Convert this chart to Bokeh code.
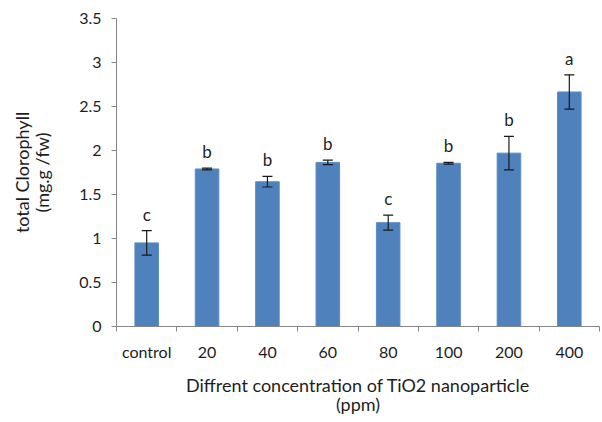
import numpy as np
from bokeh.plotting import figure
from bokeh.models import ColumnDataSource, Range1d, FixedTicker, Whisker
from bokeh.core.properties import value
from bokeh.embed import file_html
from bokeh.resources import INLINE

categories = ["control", "20", "40", "60", "80", "100", "200", "400"]
values = [0.95, 1.79, 1.645, 1.865, 1.18, 1.855, 1.97, 2.665]
errors = [0.14, 0.01, 0.06, 0.025, 0.085, 0.01, 0.19, 0.195]
letters = ["c", "b", "b", "b", "c", "b", "b", "a"]
y_ticks = [0, 0.5, 1, 1.5, 2, 2.5, 3, 3.5]
y_tick_labels = ["0", "0.5", "1", "1.5", "2", "2.5", "3", "3.5"]

FONT = "Lato"
AXIS_COL = "#868686"
TXT = "#1e1e1e"

xpos = [i + 0.5 for i in range(len(categories))]
vals = np.array(values)
errs = np.array(errors)
src = ColumnDataSource(dict(x=xpos, top=values, upper=list(vals + errs),
                            lower=list(vals - errs), letter=letters))

p = figure(width=600, height=420, x_range=Range1d(0, len(categories)),
           y_range=Range1d(0, 3.5), output_backend="svg", toolbar_location=None,
           min_border_left=116, min_border_right=1, min_border_top=18,
           min_border_bottom=94)
p.outline_line_color = None
p.xgrid.visible = False
p.ygrid.visible = False

p.vbar(x="x", top="top", width=0.39, source=src, fill_color="#4F81BD",
       line_color="#5a8bc6", line_width=1)

w = Whisker(base="x", upper="upper", lower="lower", source=src,
            line_color="#1a1a1a", line_width=1.2, level="annotation")
w.upper_head.size = 10
w.lower_head.size = 10
w.upper_head.line_color = "#1a1a1a"
w.lower_head.line_color = "#1a1a1a"
w.upper_head.line_width = 1.2
w.lower_head.line_width = 1.2
p.add_layout(w)

p.text(x="x", y="upper", text="letter", source=src, text_align="center",
       text_baseline="bottom", y_offset=-6, text_font=value(FONT),
       text_font_size="17px", text_color=TXT)

# x axis
p.xaxis.ticker = FixedTicker(ticks=xpos, minor_ticks=list(range(len(categories) + 1)))
p.xaxis.major_label_overrides = {float(x): c for x, c in zip(xpos, categories)}
p.xaxis.major_tick_out = 0
p.xaxis.major_tick_in = 0
p.xaxis.minor_tick_out = 5
p.xaxis.minor_tick_in = 0
p.xaxis.minor_tick_line_color = AXIS_COL
p.xaxis.axis_line_color = AXIS_COL
p.xaxis.major_label_standoff = 10
p.xaxis.axis_label = "Diffrent concentration of TiO2 nanoparticle\n(ppm)"
p.xaxis.axis_label_standoff = 10

# y axis
p.yaxis.ticker = FixedTicker(ticks=y_ticks)
p.yaxis.major_label_overrides = {float(t): l for t, l in zip(y_ticks, y_tick_labels)}
p.yaxis.major_tick_out = 5
p.yaxis.major_tick_in = 0
p.yaxis.major_tick_line_color = AXIS_COL
p.yaxis.minor_tick_line_color = None
p.yaxis.axis_line_color = AXIS_COL
p.yaxis.major_label_standoff = 10
p.yaxis.axis_label = "total Clorophyll\n(mg.g /fw)"
p.yaxis.axis_label_standoff = 23

for ax in (p.xaxis[0], p.yaxis[0]):
    ax.major_label_text_font = FONT
    ax.major_label_text_font_size = "16px"
    ax.major_label_text_color = TXT
    ax.axis_label_text_font = FONT
    ax.axis_label_text_font_size = "18px"
    ax.axis_label_text_font_style = "normal"
    ax.axis_label_text_color = TXT
    ax.axis_label_text_line_height = 0.9

open("out.html", "w").write(file_html(p, INLINE))
